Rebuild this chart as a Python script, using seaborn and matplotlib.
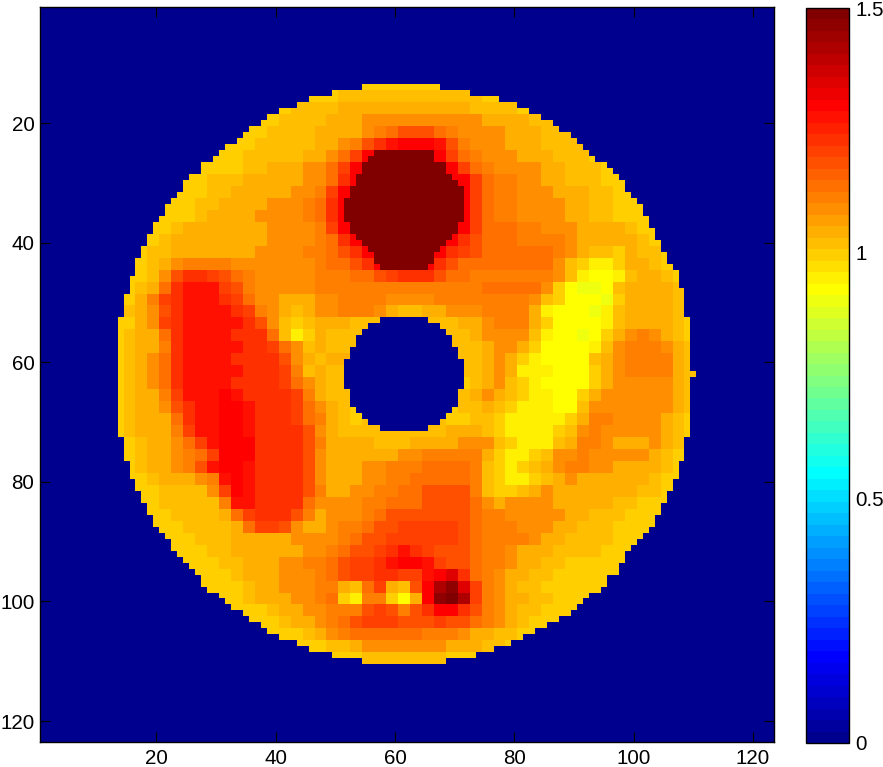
import numpy as np
import matplotlib
matplotlib.use('Agg')
import matplotlib.pyplot as plt
from matplotlib.colors import ListedColormap
import seaborn as sns

plt.rcParams['font.family'] = ['Liberation Sans', 'DejaVu Sans']

# colour levels
level_chars = list('abcdefghijklmnopqr')
level_values = [0.902, 0.926, 0.949, 0.996, 1.020, 1.043, 1.090, 1.113, 1.137, 1.184, 1.207, 1.230, 1.277, 1.301, 1.348, 1.418, 1.465, 1.488]

# disk values, one letter per 2x2 cells, from row/col 13 on
value_rows = [
    'ddddddd ddddddd ddddddd ddddddd ddddddd ddddddd ddddddd',
    'ddddddd ddddddd dddddee eeeeeee eeedddd ddddddd ddddddd',
    'ddddddd ddddddd deeeeff fffffff ffeeeed ddddddd ddddddd',
    'ddddddd ddddddd eeeefff ggggggg gggffff eeedddd ddddddd',
    'ddddddd dddddde eeeffff ghijjji hggggff feeeedd ddddddd',
    'ddddddd dddddee eeeffgh jlmnnnm jhgggff feeeedd ddddddd',
    'ddddddd ddddeee eeffgik nnnnnnn kihgggf ffeeedd ddddddd',
    'ddddddd ddddeef ffggikn rrrrrrr nkihggg gffeeed ddddddd',
    'ddddddd deeefff ffggiln rrrrrrr nnkihhg gffeeed ddddddd',
    'ddddddd deeffff fgghknn rrrrrrr nnkihhg ggfffee ddddddd',
    'ddddddd eeffffg gghilnn rrrrrrr nnkihhg gggffee ddddddd',
    'ddddddd effffgg gghilnn rrrrrrr nnkihhg gggffee ddddddd',
    'dddddef ffffffg ggghknn rrrrrrr nnkiiih hgggfff feddddd',
    'ddddeff ffffffg ggghiln rrrrrrr nljiiih hhhgfff ffedddd',
    'dddeeff fffffgg gghhijl nnnnnnn lkjiiii iihgfee dfeeddd',
    'dddefgh hhhgggg ggghiij lnnnnnl jiiiiii iigedcc dffeddd',
    'dddegjl lkjihgg ggghhhi ijklllj iihhhhh hhgecbb ceffedd',
    'ddefilm mmkjhgg ggghhhh hhhhhhh hhhiiii igdbaab effffed',
    'ddfhklm mmlkigg fffgghh hhggggh hhhhhhh gedbbba dffffed',
    'defgjlm mmmlkhg fefgghh hgfeeff ggghhhh fcbbbac effffed',
    'ddfgklm mmmmljg edefffe eeeeeee effghhh fdbbbbc effffed',
    'deffilm mmmllli ecdfeee eeeeeee eefgggg ecbbabd fghgfed',
    'deffhlm mmmmllk igefeee eeeeeee eeefggf dbbbbce ghhhgfe',
    'defgilm mmmllll jgfeffe eeeeeee eeefgfd cbbbbef ghhhhfe',
    'defgilm mmmmlll khefeee eeeeeee eeefgfc ccbbbdf ghhhhfe',
    'defgilm mmmllll kigfeee eeeeeee edefged cbbbbdf gggggfe',
    'deffhkm mmnmlll lkhfeee eeeeeee eefgfed ccbbdfg gggggfe',
    'deffgjl mmnnmll lkigfed eeeeeee deefedc ccbbegg gggggfe',
    'defffil mmnnmll lkihfed eeeeeee ddeedcc cccdfhh ggggfed',
    'defffhk mmnnmll lljgfee eeeeeee fffedcc ccdeghg ggggfed',
    'ddeffgi kmnnnll lljhfff feeefff fgggedc ccefhhg fffgfed',
    'ddeffgh iknnnll lljgfff fffgghh hhhfdcc degghgg gggfedd',
    'ddeffgh jmnnmll lljgfff gghhhii iihedcd efghhgg ffffedd',
    'dddefff ghmnmll lljgfff gghhiii iihedcc defgfff fffeddd',
    'ddddeee egknmll lljhffg ghhiijj jjhedde fgfffff ffeeddd',
    'ddddeee eehmmll lligggg hhiiijj jjigfgg ggfffff eeddddd',
    'dddddee eefikll ljhfggg hijjjjj jjihhgg gggffee edddddd',
    'dddddde eeefikk jgffghh ijjkkkk kjihhhg ggffeee ddddddd',
    'ddddddd eeeffff fgggghi jjkkkkk kjihhhh gffeeee ddddddd',
    'ddddddd deeffff ffgghij jklmlkj jjihhgf ffeeeed ddddddd',
    'ddddddd ddeefff gghhijk klmnnmk jjihhgf feedddd ddddddd',
    'ddddddd dddefff ggghijk kllkkmn olihgff eeddddd ddddddd',
    'ddddddd ddddeff ggghhfe ikfejnp qokhgfe edddddd ddddddd',
    'ddddddd ddddeff fgghidc hhdbfnq rpkhgff eeddddd ddddddd',
    'ddddddd dddddde ffgghhh jkjhjln nljhgfe edddddd ddddddd',
    'ddddddd ddddddd effghij kkkjjjk jjihgfe ddddddd ddddddd',
    'ddddddd ddddddd ddefghi iiiiihh hgffeed ddddddd ddddddd',
    'ddddddd ddddddd ddddeef ggggggg fffeedd ddddddd ddddddd',
    'ddddddd ddddddd ddddddd eeeeeee ddddddd ddddddd ddddddd',
]

# disk outline per row, rows 14 to 110
disk_first_row = 14
disk_left = [55, 50, 46, 44, 41, 39, 38, 36, 35, 34, 32, 31, 30, 28, 28, 26, 25, 25, 24, 23,
             22, 22, 21, 20, 20, 19, 19, 18, 18, 17, 17, 17, 16, 16, 16, 15, 15, 15, 15,
             14, 14, 14, 14, 14, 14, 14, 14, 14, 14, 14, 14, 14, 14, 14, 14, 14, 14, 14, 14,
             15, 15, 15, 15, 16, 16, 16, 17, 17, 18, 18, 19, 19, 20, 20,
             21, 22, 23, 23, 24, 25, 26, 27, 28, 28, 29, 31, 32, 33, 35, 36, 38, 39, 41, 44, 46, 50, 55]
disk_right = [67, 72, 77, 80, 82, 84, 86, 87, 89, 90, 91, 92, 93, 95, 96, 97, 98, 98, 99, 100,
              101, 101, 102, 102, 103, 103, 104, 104, 105, 105, 106, 107, 107, 107, 108, 108, 108, 108, 108,
              109, 109, 109, 109, 109, 109, 109, 109, 109, 110, 109, 109, 109, 109, 109, 109, 109, 109, 109, 109,
              108, 108, 108, 108, 107, 107, 107, 106, 106, 105, 105, 104, 104, 103, 103,
              102, 101, 100, 99, 98, 98, 97, 97, 95, 95, 94, 92, 91, 90, 89, 87, 85, 83, 81, 79, 76, 73, 68]

# centre hole per row, rows 53 to 71
hole_first_row = 53
hole_left = [58, 56, 55, 54, 54, 53, 53, 52, 52, 52, 52, 52, 53, 53, 53, 54, 55, 56, 58]
hole_right = [65, 67, 68, 69, 69, 70, 70, 71, 71, 71, 71, 71, 70, 70, 70, 69, 68, 67, 65]

# saturated dark circle per row, rows 25 to 44
dark_first_row = 25
dark_left = [57, 56, 56, 55, 54, 54, 53, 53, 52, 52, 52, 52, 53, 53, 54, 55, 56, 57, 57, 58]
dark_right = [66, 66, 67, 68, 69, 70, 71, 71, 71, 71, 71, 71, 70, 70, 69, 68, 67, 66, 66, 65]
dark_value = 1.5

tick_labels = [20, 40, 60, 80, 100, 120]
cbar_ticks = [0, 0.5, 1, 1.5]
cbar_labels = ['0', '0.5', '1', '1.5']

n = 123
level_map = dict(zip(level_chars, level_values))
blocks = [r.replace(' ', '') for r in value_rows]
assert all(len(b) == 49 for b in blocks), [len(b) for b in blocks]
assert len(disk_left) == 97 and len(disk_right) == 97, (len(disk_left), len(disk_right))

field = np.zeros((n, n))
for i, (first, last) in enumerate(zip(disk_left, disk_right)):
    row = disk_first_row + i
    for col in range(first, last + 1):
        j = row - hole_first_row
        if 0 <= j < len(hole_left) and hole_left[j] <= col <= hole_right[j]:
            continue
        field[row - 1, col - 1] = level_map[blocks[(row - 13) // 2][(col - 13) // 2]]

for i, (first, last) in enumerate(zip(dark_left, dark_right)):
    field[dark_first_row + i - 1, first - 1:last] = dark_value

# old matlab jet with 64 steps
idx = np.arange(1, 65)
red = np.interp(idx, [24, 40, 56, 64], [0, 1, 1, 0.5])
green = np.interp(idx, [8, 24, 40, 56], [0, 1, 1, 0])
blue = np.interp(idx, [1, 8, 24, 40], [0.5625, 1, 1, 0])
jet64 = ListedColormap(np.column_stack([red, green, blue]))

W, H = 883, 767
fig = plt.figure(figsize=(W / 100, H / 100), dpi=100)
ax = fig.add_axes([40 / W, 1 - 742 / H, 734 / W, 735.5 / H])
cax = fig.add_axes([806 / W, 1 - 743 / H, 42.5 / W, 735 / H])

sns.heatmap(field, cmap=jet64, vmin=0, vmax=1.5, ax=ax, cbar_ax=cax,
            xticklabels=False, yticklabels=False)

ax.set_xticks([t - 0.5 for t in tick_labels])
ax.set_xticklabels(tick_labels, rotation=0, fontsize=14.8)
ax.set_yticks([t - 0.5 for t in tick_labels])
ax.set_yticklabels(tick_labels, rotation=0, fontsize=14.8)
ax.tick_params(direction='in', length=7, width=0.8, top=True, right=True, color='k')
ax.tick_params(axis='x', pad=5)
ax.tick_params(axis='y', pad=4)
for s in ax.spines.values():
    s.set_visible(True)
    s.set_color('k')
    s.set_linewidth(1.0)

cbar = ax.collections[0].colorbar
cbar.set_ticks(cbar_ticks)
cbar.set_ticklabels(cbar_labels)
cbar.ax.tick_params(labelsize=14.8, length=0, pad=5)
cbar.outline.set_visible(True)
cbar.outline.set_edgecolor('k')
cbar.outline.set_linewidth(1.0)

plt.savefig('out.png', dpi=100)
plt.close()
